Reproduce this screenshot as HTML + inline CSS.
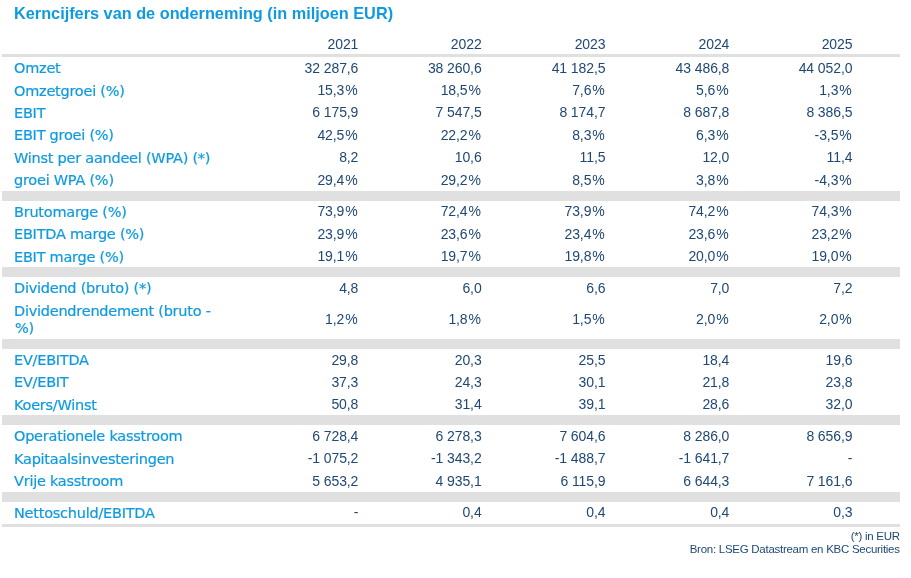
<!DOCTYPE html>
<html><head><meta charset="utf-8"><title>Kerncijfers</title>
<style>
html,body{margin:0;padding:0;background:#fff;}
body{width:911px;height:578px;position:relative;overflow:hidden;}
.t{position:absolute;white-space:nowrap;height:20px;}
.title{font:bold 16.3px/20px "Liberation Sans",Arial,sans-serif;color:#0e9ae0;left:14px;}
.l{font:14.5px/20px "DejaVu Sans","Liberation Sans",sans-serif;letter-spacing:-0.25px;color:#0e9ae0;left:14px;-webkit-text-stroke:0.2px #0e9ae0;}
.n{font:14px/20px "Liberation Sans",Arial,sans-serif;letter-spacing:-0.1px;color:#1f4874;text-align:right;width:120px;}
.f{font:11.5px/20px "Liberation Sans",Arial,sans-serif;letter-spacing:-0.27px;color:#1f4874;text-align:right;right:11.3px;}
.b{position:absolute;left:2px;width:898px;background:#e0e0e0;}
.p{margin-left:1px;margin-right:0.7px;}
.d{position:absolute;left:14px;width:1px;height:1px;background:#cfdde8;}
</style></head><body>
<div class="t title" style="top:3px">Kerncijfers van de onderneming (in miljoen EUR)</div>
<div class="t n" style="top:34px;left:238.3px">2021</div>
<div class="t n" style="top:34px;left:361.6px">2022</div>
<div class="t n" style="top:34px;left:485.4px">2023</div>
<div class="t n" style="top:34px;left:609.3px">2024</div>
<div class="t n" style="top:34px;left:732.4px">2025</div>
<div class="b" style="top:54px;height:3px"></div>
<div class="b" style="top:191px;height:10px"></div>
<div class="d" style="top:195px"></div>
<div class="b" style="top:267px;height:10px"></div>
<div class="d" style="top:271px"></div>
<div class="b" style="top:339px;height:10px"></div>
<div class="d" style="top:343px"></div>
<div class="b" style="top:415px;height:10px"></div>
<div class="d" style="top:419px"></div>
<div class="b" style="top:492px;height:10px"></div>
<div class="d" style="top:496px"></div>
<div class="b" style="top:524px;height:3px"></div>
<div class="t l" style="top:58px">Omzet</div>
<div class="t n" style="top:58px;left:238.3px">32 287,6</div>
<div class="t n" style="top:58px;left:361.6px">38 260,6</div>
<div class="t n" style="top:58px;left:485.4px">41 182,5</div>
<div class="t n" style="top:58px;left:609.3px">43 486,8</div>
<div class="t n" style="top:58px;left:732.4px">44 052,0</div>
<div class="t l" style="top:81px">Omzetgroei (%)</div>
<div class="t n" style="top:80px;left:238.3px">15,3<span class="p">%</span></div>
<div class="t n" style="top:80px;left:361.6px">18,5<span class="p">%</span></div>
<div class="t n" style="top:80px;left:485.4px">7,6<span class="p">%</span></div>
<div class="t n" style="top:80px;left:609.3px">5,6<span class="p">%</span></div>
<div class="t n" style="top:80px;left:732.4px">1,3<span class="p">%</span></div>
<div class="t l" style="top:103px">EBIT</div>
<div class="t n" style="top:102px;left:238.3px">6 175,9</div>
<div class="t n" style="top:102px;left:361.6px">7 547,5</div>
<div class="t n" style="top:102px;left:485.4px">8 174,7</div>
<div class="t n" style="top:102px;left:609.3px">8 687,8</div>
<div class="t n" style="top:102px;left:732.4px">8 386,5</div>
<div class="t l" style="top:125px">EBIT groei (%)</div>
<div class="t n" style="top:125px;left:238.3px">42,5<span class="p">%</span></div>
<div class="t n" style="top:125px;left:361.6px">22,2<span class="p">%</span></div>
<div class="t n" style="top:125px;left:485.4px">8,3<span class="p">%</span></div>
<div class="t n" style="top:125px;left:609.3px">6,3<span class="p">%</span></div>
<div class="t n" style="top:125px;left:732.4px">-3,5<span class="p">%</span></div>
<div class="t l" style="top:148px">Winst per aandeel (WPA) (*)</div>
<div class="t n" style="top:147px;left:238.3px">8,2</div>
<div class="t n" style="top:147px;left:361.6px">10,6</div>
<div class="t n" style="top:147px;left:485.4px">11,5</div>
<div class="t n" style="top:147px;left:609.3px">12,0</div>
<div class="t n" style="top:147px;left:732.4px">11,4</div>
<div class="t l" style="top:170px">groei WPA (%)</div>
<div class="t n" style="top:170px;left:238.3px">29,4<span class="p">%</span></div>
<div class="t n" style="top:170px;left:361.6px">29,2<span class="p">%</span></div>
<div class="t n" style="top:170px;left:485.4px">8,5<span class="p">%</span></div>
<div class="t n" style="top:170px;left:609.3px">3,8<span class="p">%</span></div>
<div class="t n" style="top:170px;left:732.4px">-4,3<span class="p">%</span></div>
<div class="t l" style="top:202px">Brutomarge (%)</div>
<div class="t n" style="top:201px;left:238.3px">73,9<span class="p">%</span></div>
<div class="t n" style="top:201px;left:361.6px">72,4<span class="p">%</span></div>
<div class="t n" style="top:201px;left:485.4px">73,9<span class="p">%</span></div>
<div class="t n" style="top:201px;left:609.3px">74,2<span class="p">%</span></div>
<div class="t n" style="top:201px;left:732.4px">74,3<span class="p">%</span></div>
<div class="t l" style="top:224px">EBITDA marge (%)</div>
<div class="t n" style="top:224px;left:238.3px">23,9<span class="p">%</span></div>
<div class="t n" style="top:224px;left:361.6px">23,6<span class="p">%</span></div>
<div class="t n" style="top:224px;left:485.4px">23,4<span class="p">%</span></div>
<div class="t n" style="top:224px;left:609.3px">23,6<span class="p">%</span></div>
<div class="t n" style="top:224px;left:732.4px">23,2<span class="p">%</span></div>
<div class="t l" style="top:247px">EBIT marge (%)</div>
<div class="t n" style="top:246px;left:238.3px">19,1<span class="p">%</span></div>
<div class="t n" style="top:246px;left:361.6px">19,7<span class="p">%</span></div>
<div class="t n" style="top:246px;left:485.4px">19,8<span class="p">%</span></div>
<div class="t n" style="top:246px;left:609.3px">20,0<span class="p">%</span></div>
<div class="t n" style="top:246px;left:732.4px">19,0<span class="p">%</span></div>
<div class="t l" style="top:278px">Dividend (bruto) (*)</div>
<div class="t n" style="top:278px;left:238.3px">4,8</div>
<div class="t n" style="top:278px;left:361.6px">6,0</div>
<div class="t n" style="top:278px;left:485.4px">6,6</div>
<div class="t n" style="top:278px;left:609.3px">7,0</div>
<div class="t n" style="top:278px;left:732.4px">7,2</div>
<div class="t l" style="top:301px">Dividendrendement (bruto -</div>
<div class="t n" style="top:309px;left:238.3px">1,2<span class="p">%</span></div>
<div class="t n" style="top:309px;left:361.6px">1,8<span class="p">%</span></div>
<div class="t n" style="top:309px;left:485.4px">1,5<span class="p">%</span></div>
<div class="t n" style="top:309px;left:609.3px">2,0<span class="p">%</span></div>
<div class="t n" style="top:309px;left:732.4px">2,0<span class="p">%</span></div>
<div class="t l" style="top:350px">EV/EBITDA</div>
<div class="t n" style="top:350px;left:238.3px">29,8</div>
<div class="t n" style="top:350px;left:361.6px">20,3</div>
<div class="t n" style="top:350px;left:485.4px">25,5</div>
<div class="t n" style="top:350px;left:609.3px">18,4</div>
<div class="t n" style="top:350px;left:732.4px">19,6</div>
<div class="t l" style="top:372px">EV/EBIT</div>
<div class="t n" style="top:372px;left:238.3px">37,3</div>
<div class="t n" style="top:372px;left:361.6px">24,3</div>
<div class="t n" style="top:372px;left:485.4px">30,1</div>
<div class="t n" style="top:372px;left:609.3px">21,8</div>
<div class="t n" style="top:372px;left:732.4px">23,8</div>
<div class="t l" style="top:395px">Koers/Winst</div>
<div class="t n" style="top:394px;left:238.3px">50,8</div>
<div class="t n" style="top:394px;left:361.6px">31,4</div>
<div class="t n" style="top:394px;left:485.4px">39,1</div>
<div class="t n" style="top:394px;left:609.3px">28,6</div>
<div class="t n" style="top:394px;left:732.4px">32,0</div>
<div class="t l" style="top:426px">Operationele kasstroom</div>
<div class="t n" style="top:426px;left:238.3px">6 728,4</div>
<div class="t n" style="top:426px;left:361.6px">6 278,3</div>
<div class="t n" style="top:426px;left:485.4px">7 604,6</div>
<div class="t n" style="top:426px;left:609.3px">8 286,0</div>
<div class="t n" style="top:426px;left:732.4px">8 656,9</div>
<div class="t l" style="top:449px">Kapitaalsinvesteringen</div>
<div class="t n" style="top:448px;left:238.3px">-1 075,2</div>
<div class="t n" style="top:448px;left:361.6px">-1 343,2</div>
<div class="t n" style="top:448px;left:485.4px">-1 488,7</div>
<div class="t n" style="top:448px;left:609.3px">-1 641,7</div>
<div class="t n" style="top:448px;left:732.4px">-</div>
<div class="t l" style="top:471px">Vrije kasstroom</div>
<div class="t n" style="top:471px;left:238.3px">5 653,2</div>
<div class="t n" style="top:471px;left:361.6px">4 935,1</div>
<div class="t n" style="top:471px;left:485.4px">6 115,9</div>
<div class="t n" style="top:471px;left:609.3px">6 644,3</div>
<div class="t n" style="top:471px;left:732.4px">7 161,6</div>
<div class="t l" style="top:503px">Nettoschuld/EBITDA</div>
<div class="t n" style="top:502px;left:238.3px">-</div>
<div class="t n" style="top:502px;left:361.6px">0,4</div>
<div class="t n" style="top:502px;left:485.4px">0,4</div>
<div class="t n" style="top:502px;left:609.3px">0,4</div>
<div class="t n" style="top:502px;left:732.4px">0,3</div>
<div class="t l" style="top:318px;left:15px">%)</div>
<div class="t f" style="top:526px">(*) in EUR</div>
<div class="t f" style="top:539px">Bron: LSEG Datastream en KBC Securities</div>
</body></html>
